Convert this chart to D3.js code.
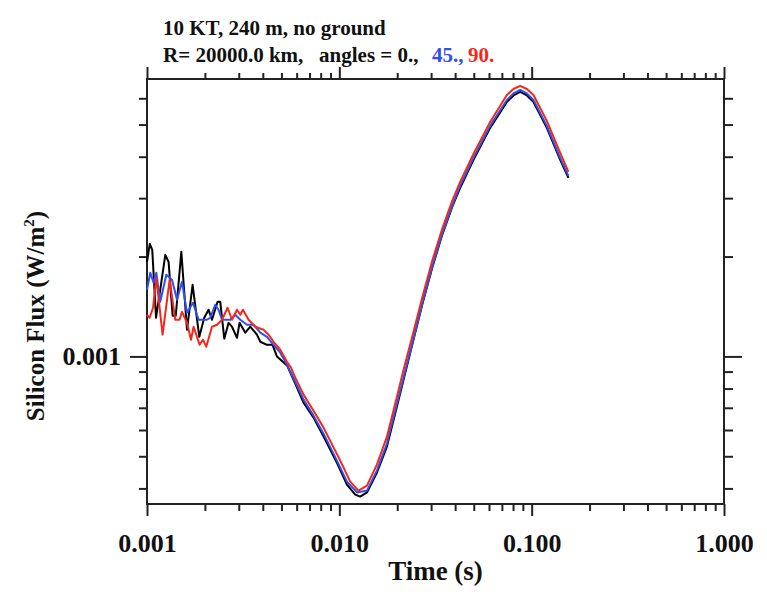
<!DOCTYPE html>
<html>
<head>
<meta charset="utf-8">
<script src="https://cdn.jsdelivr.net/npm/d3@7"></script>
<style>
    body { margin: 0; background: #fff; }
    #chart-area { width: 767px; height: 604px; }
    text { font-family: "Liberation Serif", "DejaVu Serif", serif; font-weight: bold; fill: #111; }
</style>
</head>
<body>
<div id="chart-area"></div>
<script>

// titles and labels
let titleLine1 = "10 KT, 240 m, no ground";
let titleLine2 = "R= 20000.0 km,   angles = 0.,";
let angleLabels = ["45.,", "90."];
let xTitle = "Time (s)";

// axis ticks
let majorTicksX = [0.001, 0.01, 0.1, 1];
let tickLabelsX = ["0.001", "0.010", "0.100", "1.000"];
let majorTicksY = [0.001];
let tickLabelsY = ["0.001"];

// series, time in ms and flux in mW/m^2
let timeBlack = [1.000, 1.034, 1.065, 1.114, 1.172, 1.245, 1.295, 1.359, 1.411, 1.508,
    1.614, 1.726, 1.870, 1.985, 2.090, 2.177, 2.328, 2.404, 2.522, 2.656,
    2.766, 2.937, 3.029, 3.244, 3.443, 3.730, 3.881, 4.205, 4.497, 4.740,
    5.360, 5.900, 6.516, 7.342, 8.280, 9.716, 10.95, 12.10, 12.84, 13.92,
    15.68, 17.68, 19.93, 21.57, 23.93, 26.97, 30.41, 34.27, 38.63, 42.50,
    49.83, 60.85, 74.31, 80.43, 87.16, 94.44, 102.2, 119.9, 140.7, 155.3];
let fluxBlack = [1.928, 2.185, 2.094, 1.308, 1.589, 2.024, 1.928, 1.326, 1.326, 2.068,
    1.203, 1.644, 1.146, 1.308, 1.383, 1.290, 1.461, 1.461, 1.131, 1.263,
    1.229, 1.138, 1.263, 1.179, 1.229, 1.163, 1.107, 1.084, 1.084, 0.999,
    0.937, 0.828, 0.725, 0.654, 0.573, 0.478, 0.411, 0.383, 0.378, 0.389,
    0.446, 0.535, 0.706, 0.851, 1.084, 1.432, 1.850, 2.326, 2.824, 3.222,
    3.913, 4.886, 5.851, 6.119, 6.270, 6.119, 5.851, 4.886, 3.913, 3.454];

let timeBlue = [1.000, 1.040, 1.082, 1.118, 1.172, 1.260, 1.349, 1.432, 1.520, 1.614,
    1.734, 1.854, 2.050, 2.133, 2.265, 2.356, 2.454, 2.710, 2.877, 3.054,
    3.310, 3.582, 3.881, 4.205, 4.550, 4.931, 5.342,
    5.900, 6.516, 7.342, 8.280, 9.716, 10.95, 12.39, 13.92, 15.68, 17.68, 19.93, 21.57,
    23.93, 26.97, 30.41, 34.27, 38.63, 42.50, 49.83, 60.85, 74.31, 80.43, 87.16, 94.44,
    102.2, 119.9, 140.7, 155.3];
let fluxBlue = [1.588, 1.787, 1.667, 1.787, 1.461, 1.762, 1.702, 1.482, 1.679, 1.354,
    1.451, 1.290, 1.290, 1.308, 1.432, 1.383, 1.290, 1.290, 1.335, 1.290,
    1.246, 1.246, 1.179, 1.146, 1.084, 1.026, 0.944,
    0.839, 0.741, 0.663, 0.585, 0.485, 0.4195, 0.389, 0.394, 0.4525, 0.546, 0.720, 0.863,
    1.092, 1.441, 1.863, 2.342, 2.844, 3.267, 3.967, 4.954, 5.932, 6.205, 6.358, 6.205,
    5.932, 4.954, 3.967, 3.502];

let timeRed = [1.000, 1.032, 1.075, 1.118, 1.205, 1.311, 1.403, 1.477, 1.520, 1.614,
    1.693, 1.747, 1.877, 1.955, 2.033, 2.177, 2.311, 2.454, 2.624, 2.766,
    2.937, 3.054, 3.155, 3.374, 3.655, 4.036, 4.285, 4.550, 4.931, 5.342, 5.603,
    5.900, 6.516, 7.342, 8.280, 10.11, 11.39, 12.58, 13.92, 15.68, 17.68, 19.93, 21.57,
    23.93, 26.97, 30.41, 34.27, 38.63, 42.50, 49.83, 60.85, 74.31, 80.43, 87.16, 94.44,
    102.2, 119.9, 140.7, 155.3];
let fluxRed = [1.335, 1.308, 1.402, 1.726, 1.163, 1.702, 1.290, 1.290, 1.363, 1.263,
    1.123, 1.229, 1.084, 1.123, 1.070, 1.229, 1.246, 1.290, 1.402, 1.290,
    1.383, 1.335, 1.383, 1.290, 1.229, 1.203, 1.163, 1.107, 1.048, 0.964, 0.925,
    0.863, 0.767, 0.686, 0.610, 0.485, 0.4195, 0.394, 0.408, 0.472, 0.573, 0.756, 0.912,
    1.146, 1.502, 1.942, 2.424, 2.944, 3.359, 4.078, 5.093, 6.141, 6.401, 6.537, 6.401,
    6.141, 5.129, 4.106, 3.600];

let seriesColors = ["#000000", "#2f50f0", "#f3281c"];


class FluxVis {

    constructor(parentElement) {
        this.parentElement = parentElement;
        this.displayData = [];

        this.initVis();
    }

    initVis() {
        let vis = this;

        vis.margin = {top: 79, right: 43, bottom: 100, left: 147};
        vis.width = 767 - vis.margin.left - vis.margin.right;
        vis.height = 604 - vis.margin.top - vis.margin.bottom;

        vis.svg = d3.select("#" + vis.parentElement).append("svg")
            .attr("width", 767)
            .attr("height", 604);

        vis.g = vis.svg.append("g")
            .attr("transform", `translate(${vis.margin.left},${vis.margin.top})`);

        // log scales
        vis.x = d3.scaleLog()
            .domain([0.001, 1])
            .range([0, vis.width]);

        vis.y = d3.scaleLog()
            .domain([0.000359, 0.00686])
            .range([vis.height, 0]);

        vis.minorX = vis.x.ticks().filter(d => !majorTicksX.some(m => Math.abs(m - d) < 1e-9));
        vis.minorY = vis.y.ticks().filter(d => !majorTicksY.some(m => Math.abs(m - d) < 1e-12));

        // axes: major + minor on all four sides
        let axes = [
            {axis: d3.axisBottom(vis.x).tickValues(majorTicksX).tickSize(12).tickPadding(18)
                    .tickFormat((d, i) => tickLabelsX[i]), pos: `translate(0,${vis.height})`},
            {axis: d3.axisBottom(vis.x).tickValues(vis.minorX).tickSize(7).tickFormat(""), pos: `translate(0,${vis.height})`},
            {axis: d3.axisTop(vis.x).tickValues(majorTicksX).tickSize(12).tickFormat(""), pos: "translate(0,0)"},
            {axis: d3.axisTop(vis.x).tickValues(vis.minorX).tickSize(6).tickFormat(""), pos: "translate(0,0)"},
            {axis: d3.axisLeft(vis.y).tickValues(majorTicksY).tickSize(17).tickPadding(9)
                    .tickFormat((d, i) => tickLabelsY[i]), pos: "translate(0,0)"},
            {axis: d3.axisLeft(vis.y).tickValues(vis.minorY).tickSize(8).tickFormat(""), pos: "translate(0,0)"},
            {axis: d3.axisRight(vis.y).tickValues(majorTicksY).tickSize(18).tickFormat(""), pos: `translate(${vis.width},0)`},
            {axis: d3.axisRight(vis.y).tickValues(vis.minorY).tickSize(9).tickFormat(""), pos: `translate(${vis.width},0)`}
        ];

        axes.forEach(function (a) {
            let g = vis.g.append("g")
                .attr("class", "axis")
                .attr("transform", a.pos)
                .call(a.axis);
            g.select(".domain").remove();
            g.selectAll("line").attr("stroke", "#222").attr("stroke-width", 2);
            g.selectAll("text")
                .attr("font-family", null)
                .style("font-size", "26px");
        });

        // frame
        vis.g.append("rect")
            .attr("width", vis.width)
            .attr("height", vis.height)
            .attr("fill", "none")
            .attr("stroke", "#222")
            .attr("stroke-width", 2);

        // titles
        vis.svg.append("text")
            .attr("x", 163)
            .attr("y", 35)
            .style("font-size", "21px")
            .text(titleLine1);

        let t2 = vis.svg.append("text")
            .attr("y", 62)
            .style("font-size", "21px")
            .style("white-space", "pre");
        t2.append("tspan").attr("x", 163).text(titleLine2);
        t2.append("tspan").attr("x", 432).style("fill", seriesColors[1]).text(angleLabels[0]);
        t2.append("tspan").attr("x", 468).style("fill", seriesColors[2]).text(angleLabels[1]);

        // axis titles
        vis.svg.append("text")
            .attr("x", vis.margin.left + vis.width / 2)
            .attr("y", 580)
            .attr("text-anchor", "middle")
            .style("font-size", "27px")
            .text(xTitle);

        let yt = vis.svg.append("text")
            .attr("transform", "translate(44,316) rotate(-90)")
            .attr("text-anchor", "middle")
            .style("font-size", "25px");
        yt.append("tspan").text("Silicon Flux (W/m");
        yt.append("tspan").attr("dy", -10).style("font-size", "15px").text("2");
        yt.append("tspan").attr("dy", 10).text(")");

        vis.line = d3.line()
            .x(d => vis.x(d.t))
            .y(d => vis.y(d.f));

        vis.wrangleData();
    }

    wrangleData() {
        let vis = this;

        // ms -> s, mW/m^2 -> W/m^2
        let toPoints = (ts, fs) => ts.map((t, i) => ({t: t * 1e-3, f: fs[i] * 1e-3}));

        vis.displayData = [
            {key: "0", color: seriesColors[0], values: toPoints(timeBlack, fluxBlack)},
            {key: "45", color: seriesColors[1], values: toPoints(timeBlue, fluxBlue)},
            {key: "90", color: seriesColors[2], values: toPoints(timeRed, fluxRed)}
        ];

        vis.updateVis();
    }

    updateVis() {
        let vis = this;

        vis.g.selectAll(".series")
            .data(vis.displayData)
            .enter()
            .append("path")
            .attr("class", "series")
            .attr("d", d => vis.line(d.values))
            .attr("fill", "none")
            .attr("stroke", d => d.color)
            .attr("stroke-width", 2)
            .attr("stroke-linejoin", "round");
    }
}

let fluxVis = new FluxVis("chart-area");

</script>
</body>
</html>
